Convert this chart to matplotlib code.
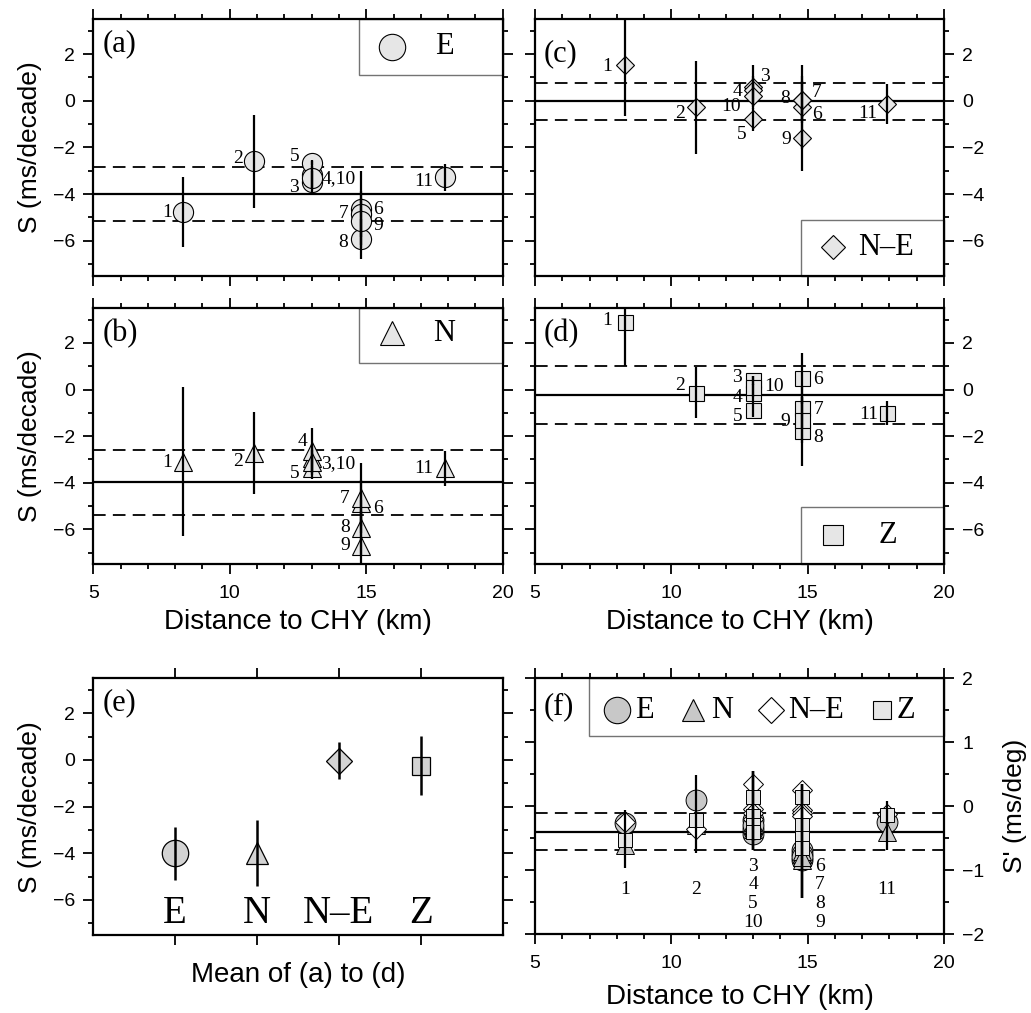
import matplotlib
matplotlib.use('Agg')
import matplotlib.pyplot as plt
from matplotlib.patches import Rectangle
from matplotlib.ticker import MultipleLocator, NullLocator

plt.rcParams['font.family'] = ['Liberation Sans', 'DejaVu Sans']
SERIF = ['Liberation Serif', 'DejaVu Serif']

# station numbers and their distance to CHY (km)
stations = ['1', '2', '3', '4', '5', '6', '7', '8', '9', '10', '11']
distance = [8.3, 10.9, 13.0, 13.0, 13.0, 14.8, 14.8, 14.8, 14.8, 13.0, 17.9]

# S (ms/decade) per station and component, with errors
s_e = [-4.79, -2.6, -3.5, -3.2, -2.65, -4.65, -4.85, -5.94, -5.17, -3.3, -3.29]
err_e = [1.5, 2.0, 0.5, 0.6, 0.1, 1.65, 1.0, 0.85, 1.0, 0.5, 0.57]
s_n = [-3.09, -2.73, -2.95, -2.65, -3.35, -4.87, -4.66, -5.94, -6.7, -3.1, -3.37]
err_n = [3.2, 1.75, 0.6, 1.0, 0.5, 1.0, 1.5, 1.2, 1.5, 0.5, 0.75]
s_ne = [1.54, -0.29, 0.6, 0.45, -0.8, -0.29, 0.05, 0.03, -1.61, 0.21, -0.14]
err_ne = [2.2, 2.0, 0.95, 0.6, 0.5, 1.8, 1.0, 0.8, 1.4, 0.5, 0.87]
s_z = [2.91, -0.13, 0.39, -0.16, -0.87, 0.49, -0.8, -1.8, -1.3, 0.13, -1.01]
err_z = [1.9, 1.1, 0.2, 0.4, 0.3, 1.1, 0.9, 1.5, 1.0, 0.45, 0.5]

# component means and standard deviations (panels a-e)
components = ['E', 'N', 'N\u2013E', 'Z']
comp_mean = [-4.0, -3.98, -0.03, -0.24]
comp_std = [1.14, 1.4, 0.79, 1.26]

# S' (ms/deg) per station and component (panel f)
sf_e = [-0.27, 0.09, -0.44, -0.22, -0.35, -0.69, -0.84, -0.75, -0.8, -0.3, -0.25]
sf_n = [-0.6, -0.3, -0.3, -0.25, -0.35, -0.75, -0.85, -0.7, -0.8, -0.28, -0.4]
sf_ne = [-0.25, -0.35, 0.34, -0.04, -0.2, 0.25, -0.06, -0.1, -0.15, -0.1, -0.12]
sf_z = [-0.53, -0.22, 0.15, -0.16, -0.3, 0.15, -0.3, -0.5, -0.65, -0.4, -0.14]
sf_bar = [-0.51, -0.12, -0.07, -0.07, -0.07, -0.55, -0.55, -0.55, -0.55, -0.07, -0.3]
sf_bar_err = [0.45, 0.61, 0.62, 0.62, 0.62, 0.89, 0.89, 0.89, 0.89, 0.62, 0.38]
sf_mean = -0.40
sf_std = 0.29

# station label text and offsets (points) for panels a-d
labels_a = ['1', '2', '3', '4,10', '5', '6', '7', '8', '9', '', '11']
offs_a = [(-8, 0), (-8, 2), (-9, -4), (7, -2), (-9, 4), (9, 0), (-9, 0), (-9, -2), (9, -3), (0, 0), (-9, -3)]
labels_b = ['1', '2', '3,10', '4', '5', '6', '7', '8', '9', '', '11']
offs_b = [(-8, -1), (-8, -6), (7, -4), (-3, 7), (-9, -4), (9, -4), (-8, 0), (-8, 0), (-8, 0), (0, 0), (-9, 0)]
labels_c = ['1', '2', '3', '4', '5', '6', '7', '8', '9', '10', '11']
offs_c = [(-9, -1), (-8, -4), (5, 7), (-8, -1), (-5, -11), (7, -5), (7, 5), (-9, 1), (-8, -1), (-9, -8), (-7, -7)]
labels_d = ['1', '2', '3', '4', '5', '6', '7', '8', '9', '10', '11']
offs_d = [(-9, 1), (-8, 5), (-8, 2), (-8, -3), (-8, -5), (8, -1), (8, -1), (8, -4), (-9, -1), (8, 0), (-6, -1)]

# station label positions in panel f
f_label_x = [8.3, 10.9, 13.0, 13.0, 13.0, 15.45, 15.45, 15.45, 15.45, 13.0, 17.9]
f_label_y = [-1.31, -1.31, -0.95, -1.23, -1.52, -0.95, -1.23, -1.52, -1.82, -1.82, -1.31]

LIGHT = '#e6e6e6'
MID = '#c8c8c8'

fig = plt.figure(figsize=(10.31, 10.13), dpi=100)
W, H = 1031.0, 1013.0


def add_axes(left, top, right, bottom):
    return fig.add_axes([left / W, 1 - bottom / H, (right - left) / W, (bottom - top) / H])


def style_axes(ax):
    for sp in ax.spines.values():
        sp.set_linewidth(1.6)
    ax.tick_params(which='both', direction='out', top=True, right=True, width=1.3,
                   labelsize=14, pad=6)
    ax.tick_params(axis='x', which='both', pad=8)
    ax.tick_params(which='major', length=7)
    ax.tick_params(which='minor', length=3.5)


def y_label(ax, text, x=-0.155):
    ax.text(x, 0.5, text, transform=ax.transAxes, rotation=90, ha='center',
            va='center', fontsize=19)


def x_label(ax, text, y):
    ax.text(0.5, y, text, transform=ax.transAxes, ha='center', va='center',
            fontsize=20)


def s_axes(ax, left_labels, right_labels, bottom_labels):
    ax.set_xlim(5, 20)
    ax.set_ylim(-7.5, 3.5)
    ax.xaxis.set_major_locator(MultipleLocator(5))
    ax.xaxis.set_minor_locator(MultipleLocator(1))
    ax.yaxis.set_major_locator(MultipleLocator(2))
    ax.yaxis.set_minor_locator(MultipleLocator(1))
    style_axes(ax)
    ax.tick_params(labelleft=left_labels, labelright=right_labels,
                   labelbottom=bottom_labels)
    if left_labels:
        y_label(ax, 'S (ms/decade)')
    if bottom_labels:
        x_label(ax, 'Distance to CHY (km)', -0.225)


def mean_lines(ax, mean, std):
    ax.axhline(mean, color='k', lw=1.6, zorder=1)
    for v in (mean + std, mean - std):
        ax.axhline(v, color='k', lw=1.3, ls=(0, (7, 4)), zorder=1)


def station_panel(ax, values, errors, marker, ms, mean, std, labels, offsets):
    mean_lines(ax, mean, std)
    ax.plot(distance, values, ls='none', marker=marker, ms=ms, mfc=LIGHT,
            mec='k', mew=0.8, zorder=3)
    ax.errorbar(distance, values, yerr=errors, fmt='none', ecolor='k',
                elinewidth=1.6, capsize=0, zorder=4)
    for x, y, lab, (dx, dy) in zip(distance, values, labels, offsets):
        if lab:
            ax.annotate(lab, (x, y), xytext=(dx, dy), textcoords='offset points',
                        ha='right' if dx < 0 else 'left', va='center',
                        fontsize=14, family=SERIF, zorder=5)


def legend_box(ax, x0, y0, w, h, items):
    ax.add_patch(Rectangle((x0, y0), w, h, transform=ax.transAxes, fc='white',
                           ec='0.45', lw=1.0, zorder=2.3, clip_on=False))
    for mx, my, marker, ms, fc, text, tx in items:
        ax.plot([mx], [my], transform=ax.transAxes, ls='none', marker=marker, ms=ms,
                mfc=fc, mec='k', mew=0.8, zorder=2.4, clip_on=False)
        ax.text(tx, my, text, transform=ax.transAxes, ha='left', va='center',
                fontsize=22, family=SERIF, zorder=2.4)


def panel_tag(ax, tag, y=0.9):
    ax.text(0.022, y, tag, transform=ax.transAxes, ha='left', va='center',
            fontsize=22, family=SERIF)


ax_a = add_axes(93.3, 19, 502.7, 275.7)
ax_c = add_axes(535, 19, 944, 275.7)
ax_b = add_axes(93.3, 308, 502.7, 564.3)
ax_d = add_axes(535, 308, 944, 564.3)
ax_e = add_axes(93.3, 678.3, 502.7, 935)
ax_f = add_axes(535, 678.3, 944, 934)

# (a) E
s_axes(ax_a, True, False, False)
station_panel(ax_a, s_e, err_e, 'o', 14.5, comp_mean[0], comp_std[0], labels_a, offs_a)
legend_box(ax_a, 0.649, 0.782, 0.351, 0.218, [(0.729, 0.892, 'o', 19, LIGHT, 'E', 0.835)])
panel_tag(ax_a, '(a)', 0.905)

# (b) N
s_axes(ax_b, True, False, True)
station_panel(ax_b, s_n, err_n, '^', 12.5, comp_mean[1], comp_std[1], labels_b, offs_b)
legend_box(ax_b, 0.649, 0.787, 0.351, 0.213, [(0.729, 0.901, '^', 17, LIGHT, 'N', 0.83)])
panel_tag(ax_b, '(b)')

# (c) N-E
s_axes(ax_c, False, True, False)
station_panel(ax_c, s_ne, err_ne, 'D', 9.5, comp_mean[2], comp_std[2], labels_c, offs_c)
legend_box(ax_c, 0.65, 0.0, 0.35, 0.218, [(0.729, 0.11, 'D', 12, LIGHT, 'N\u2013E', 0.79)])
panel_tag(ax_c, '(c)', 0.866)

# (d) Z
s_axes(ax_d, False, True, True)
station_panel(ax_d, s_z, err_z, 's', 10.8, comp_mean[3], comp_std[3], labels_d, offs_d)
legend_box(ax_d, 0.65, 0.0, 0.35, 0.223, [(0.729, 0.113, 's', 14, LIGHT, 'Z', 0.84)])
panel_tag(ax_d, '(d)')

# (e) component means
ax_e.set_xlim(0, 5)
ax_e.set_ylim(-7.5, 3.5)
ax_e.set_xticks(range(1, 5))
ax_e.xaxis.set_minor_locator(NullLocator())
ax_e.yaxis.set_major_locator(MultipleLocator(2))
ax_e.yaxis.set_minor_locator(MultipleLocator(1))
style_axes(ax_e)
ax_e.tick_params(labelbottom=False)
e_markers = ['o', '^', 'D', 's']
e_sizes = [19, 15.5, 13, 13.5]
for i, (m, ms) in enumerate(zip(e_markers, e_sizes)):
    ax_e.plot([i + 1], [comp_mean[i]], ls='none', marker=m, ms=ms, mfc='#d3d3d3',
              mec='k', mew=0.9, zorder=3)
    ax_e.text(i + 1, -6.6, components[i], ha='center', va='center', fontsize=28,
              family=SERIF)
ax_e.errorbar(range(1, 5), comp_mean, yerr=comp_std, fmt='none', ecolor='k',
              elinewidth=1.8, capsize=0, zorder=4)
y_label(ax_e, 'S (ms/decade)')
x_label(ax_e, 'Mean of (a) to (d)', -0.157)
panel_tag(ax_e, '(e)', 0.903)

# (f) S' (ms/deg)
ax_f.set_xlim(5, 20)
ax_f.set_ylim(-2, 2)
ax_f.xaxis.set_major_locator(MultipleLocator(5))
ax_f.xaxis.set_minor_locator(MultipleLocator(1))
ax_f.yaxis.set_major_locator(MultipleLocator(1))
ax_f.yaxis.set_minor_locator(MultipleLocator(0.5))
style_axes(ax_f)
ax_f.tick_params(labelleft=False, labelright=True)
mean_lines(ax_f, sf_mean, sf_std)
ax_f.plot(distance, sf_e, ls='none', marker='o', ms=15, mfc=MID, mec='k', mew=0.7, zorder=3)
ax_f.plot(distance, sf_n, ls='none', marker='^', ms=13, mfc=MID, mec='k', mew=0.7, zorder=3.1)
ax_f.plot(distance, sf_ne, ls='none', marker='D', ms=10, mfc='white', mec='k', mew=0.7, zorder=3.2)
ax_f.plot(distance, sf_z, ls='none', marker='s', ms=10, mfc=LIGHT, mec='k', mew=0.7, zorder=3.3)
ax_f.errorbar(distance, sf_bar, yerr=sf_bar_err, fmt='none', ecolor='k',
              elinewidth=1.6, capsize=0, zorder=4)
for x, y, lab in zip(f_label_x, f_label_y, stations):
    ax_f.text(x, y, lab, ha='center', va='center', fontsize=14, family=SERIF)
x_label(ax_f, 'Distance to CHY (km)', -0.245)
y_label(ax_f, "S' (ms/deg)", x=1.174)
legend_box(ax_f, 0.133, 0.773, 0.867, 0.227, [
    (0.2, 0.875, 'o', 19, MID, 'E', 0.245),
    (0.387, 0.875, '^', 16, MID, 'N', 0.43),
    (0.577, 0.875, 'D', 13, 'white', 'N\u2013E', 0.62),
    (0.848, 0.875, 's', 13, LIGHT, 'Z', 0.885),
])
panel_tag(ax_f, '(f)', 0.89)

fig.savefig('out.png', dpi=100)
